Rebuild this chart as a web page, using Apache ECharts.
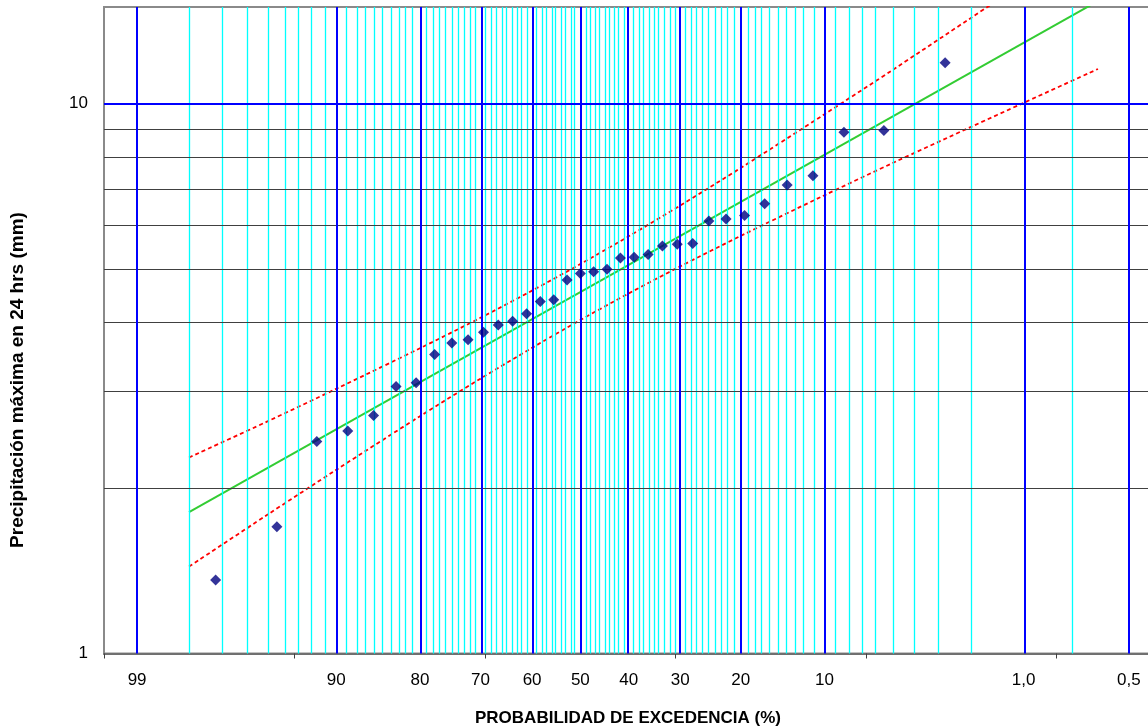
<!DOCTYPE html>
<html><head><meta charset="utf-8">
<script src="https://cdn.jsdelivr.net/npm/echarts@6/dist/echarts.min.js"></script>
<style>html,body{margin:0;padding:0;background:#fff}#c{width:1148px;height:728px}</style>
</head><body><div id="c"></div><script>
// Exceedance probability (%) of each observation (Weibull plotting position)
const exceedProb = [97.22, 94.44, 91.67, 88.89, 86.11, 83.33, 80.56, 77.78, 75.00, 72.22,
  69.44, 66.67, 63.89, 61.11, 58.33, 55.56, 52.78, 50.00, 47.22, 44.44,
  41.67, 38.89, 36.11, 33.33, 30.56, 27.78, 25.00, 22.22, 19.44, 16.67,
  13.89, 11.11, 8.33, 5.56, 2.78];
// Maximum 24 h precipitation (mm)
const precip = [1.36, 1.70, 2.43, 2.54, 2.71, 3.06, 3.11, 3.50, 3.67, 3.72,
  3.84, 3.96, 4.02, 4.15, 4.37, 4.40, 4.78, 4.91, 4.95, 5.00,
  5.24, 5.26, 5.32, 5.51, 5.55, 5.57, 6.12, 6.17, 6.26, 6.58,
  7.12, 7.40, 8.88, 8.94, 11.88];
// Fitted line
const fitProb = [98, 0.33];
const fitValue = [1.808, 15.38];
// Confidence band
const bandProb = [98, 95, 90, 80, 70, 60, 50, 40, 30, 20, 10, 5, 2, 1, 0.33];
const bandUpper = [2.273, 2.641, 3.030, 3.592, 4.080, 4.573, 5.111, 5.740, 6.533, 7.644, 9.572, 11.56, 14.36, 16.60, 20.45];
const bandLower = [1.439, 1.786, 2.158, 2.702, 3.162, 3.598, 4.043, 4.518, 5.062, 5.750, 6.819, 7.820, 9.089, 10.04, 11.57];
// Probability paper grid
const majorGridProb = [99, 90, 80, 70, 60, 50, 40, 30, 20, 10, 1, 0.2];
const minorGridProb = [98, 97, 96, 95, 94, 93, 92, 91,
  89, 88, 87, 86, 85, 84, 83, 82, 81,
  79, 78, 77, 76, 75, 74, 73, 72, 71,
  69, 68, 67, 66, 65, 64, 63, 62, 61,
  59, 58, 57, 56, 55, 54, 53, 52, 51,
  49, 48, 47, 46, 45, 44, 43, 42, 41,
  39, 38, 37, 36, 35, 34, 33, 32, 31,
  29, 28, 27, 26, 25, 24, 23, 22, 21,
  19, 18, 17, 16, 15, 14, 13, 12, 11,
  9, 8, 7, 6, 5, 4, 3, 2, 0.5];
const tickProb = [99, 90, 80, 70, 60, 50, 40, 30, 20, 10, 1, 0.2];
const tickLabels = ['99', '90', '80', '70', '60', '50', '40', '30', '20', '10', '1,0', '0,5'];
const axisTickZ = [-2.5, -1.5, -0.5, 0.5, 1.5, 2.5];
const yMinorGrid = [2, 3, 4, 5, 6, 7, 8, 9];
const yMajorGrid = [10];

// inverse standard normal CDF (Acklam)
function invNorm(p) {
  const a = [-3.969683028665376e+01, 2.209460984245205e+02, -2.759285104469687e+02, 1.383577518672690e+02, -3.066479806614716e+01, 2.506628277459239e+00];
  const b = [-5.447609879822406e+01, 1.615858368580409e+02, -1.556989798598866e+02, 6.680131188771972e+01, -1.328068155288572e+01];
  const c = [-7.784894002430293e-03, -3.223964580411365e-01, -2.400758277161838e+00, -2.549732539343734e+00, 4.374664141464968e+00, 2.938163982698783e+00];
  const d = [7.784695709041462e-03, 3.224671290700398e-01, 2.445134137142996e+00, 3.754408661907416e+00];
  const pl = 0.02425;
  let q, r;
  if (p < pl) {
    q = Math.sqrt(-2 * Math.log(p));
    return (((((c[0]*q+c[1])*q+c[2])*q+c[3])*q+c[4])*q+c[5]) / ((((d[0]*q+d[1])*q+d[2])*q+d[3])*q+1);
  } else if (p <= 1 - pl) {
    q = p - 0.5; r = q * q;
    return (((((a[0]*r+a[1])*r+a[2])*r+a[3])*r+a[4])*r+a[5])*q / (((((b[0]*r+b[1])*r+b[2])*r+b[3])*r+b[4])*r+1);
  } else {
    q = Math.sqrt(-2 * Math.log(1 - p));
    return -(((((c[0]*q+c[1])*q+c[2])*q+c[3])*q+c[4])*q+c[5]) / ((((d[0]*q+d[1])*q+d[2])*q+d[3])*q+1);
  }
}
// exceedance % -> standard normal variate
const zOf = p => invNorm(1 - p / 100);
const tickZ = tickProb.map(zOf);

const font = 'Arial, "Liberation Sans", sans-serif';
const chart = echarts.init(document.getElementById('c'), null, { renderer: 'canvas' });

chart.setOption({
  animation: false,
  backgroundColor: '#ffffff',
  grid: { left: 104, right: -4, top: 7, bottom: 74.5, containLabel: false, outerBoundsMode: 'none',
    show: true, borderColor: '#8a8a8a', borderWidth: 2, backgroundColor: '#ffffff' },
  graphic: [{
    type: 'text', x: 18, y: 380, rotation: Math.PI / 2, silent: true,
    style: { text: 'Precipitación máxima en 24 hrs (mm)', font: 'bold 19px Arial, "Liberation Sans", sans-serif',
      fill: '#000', align: 'center', verticalAlign: 'middle' }
  }],
  xAxis: {
    type: 'value', min: -2.5, max: 3.0,
    name: 'PROBABILIDAD DE EXCEDENCIA (%)', nameLocation: 'middle', nameGap: 56,
    nameTextStyle: { fontFamily: font, fontSize: 17, fontWeight: 'bold', color: '#000' },
    axisLine: { show: true, lineStyle: { color: '#707070', width: 2 } },
    axisTick: { show: true, customValues: axisTickZ, length: 5, lineStyle: { color: '#404040', width: 1 } },
    axisLabel: {
      customValues: tickZ, margin: 18, fontFamily: font, fontSize: 17, color: '#000',
      formatter: function (v) {
        let best = 0, bd = Infinity;
        tickZ.forEach((z, i) => { const dd = Math.abs(z - v); if (dd < bd) { bd = dd; best = i; } });
        return tickLabels[best];
      }
    },
    splitLine: { show: false }
  },
  yAxis: {
    type: 'log', logBase: 10, min: 1, max: 15,
    axisLine: { show: true, lineStyle: { color: '#8a8a8a', width: 2 } },
    axisTick: { show: false },
    axisLabel: { margin: 16, fontFamily: font, fontSize: 17, color: '#000', showMaxLabel: false },
    splitLine: { show: false },
    minorTick: { show: false }, minorSplitLine: { show: false }
  },
  series: [
    {
      type: 'line', data: [], z: 1, silent: true,
      markLine: {
        silent: true, symbol: ['none', 'none'], label: { show: false }, animation: false,
        lineStyle: { color: '#00FFFF', width: 1.3, type: 'solid' },
        data: minorGridProb.map(p => ({ xAxis: zOf(p) }))
      }
    },
    {
      type: 'line', data: [], z: 2, silent: true,
      markLine: {
        silent: true, symbol: ['none', 'none'], label: { show: false }, animation: false,
        lineStyle: { color: '#404040', width: 1.2, type: 'solid' },
        data: yMinorGrid.map(v => ({ yAxis: v }))
      }
    },
    {
      type: 'line', data: [], z: 2, silent: true,
      markLine: {
        silent: true, symbol: ['none', 'none'], label: { show: false }, animation: false,
        lineStyle: { color: '#0000FF', width: 2, type: 'solid' },
        data: majorGridProb.map(p => ({ xAxis: zOf(p) })).concat(yMajorGrid.map(v => ({ yAxis: v })))
      }
    },
    {
      name: 'Límite superior', type: 'line', z: 3, showSymbol: false, smooth: 0.3, clip: true,
      lineStyle: { color: '#FF0000', width: 1.8, type: [4, 3] },
      data: bandProb.map((p, i) => [zOf(p), bandUpper[i]])
    },
    {
      name: 'Límite inferior', type: 'line', z: 3, showSymbol: false, smooth: 0.3, clip: true,
      lineStyle: { color: '#FF0000', width: 1.8, type: [4, 3] },
      data: bandProb.map((p, i) => [zOf(p), bandLower[i]])
    },
    {
      name: 'Ajuste', type: 'line', z: 4, showSymbol: false, clip: true,
      lineStyle: { color: '#33CC33', width: 2 },
      data: fitProb.map((p, i) => [zOf(p), fitValue[i]])
    },
    {
      name: 'Datos', type: 'scatter', z: 5, symbol: 'diamond', symbolSize: 11,
      itemStyle: { color: '#000080' },
      data: exceedProb.map((p, i) => [zOf(p), precip[i]])
    }
  ]
});
</script></body></html>
